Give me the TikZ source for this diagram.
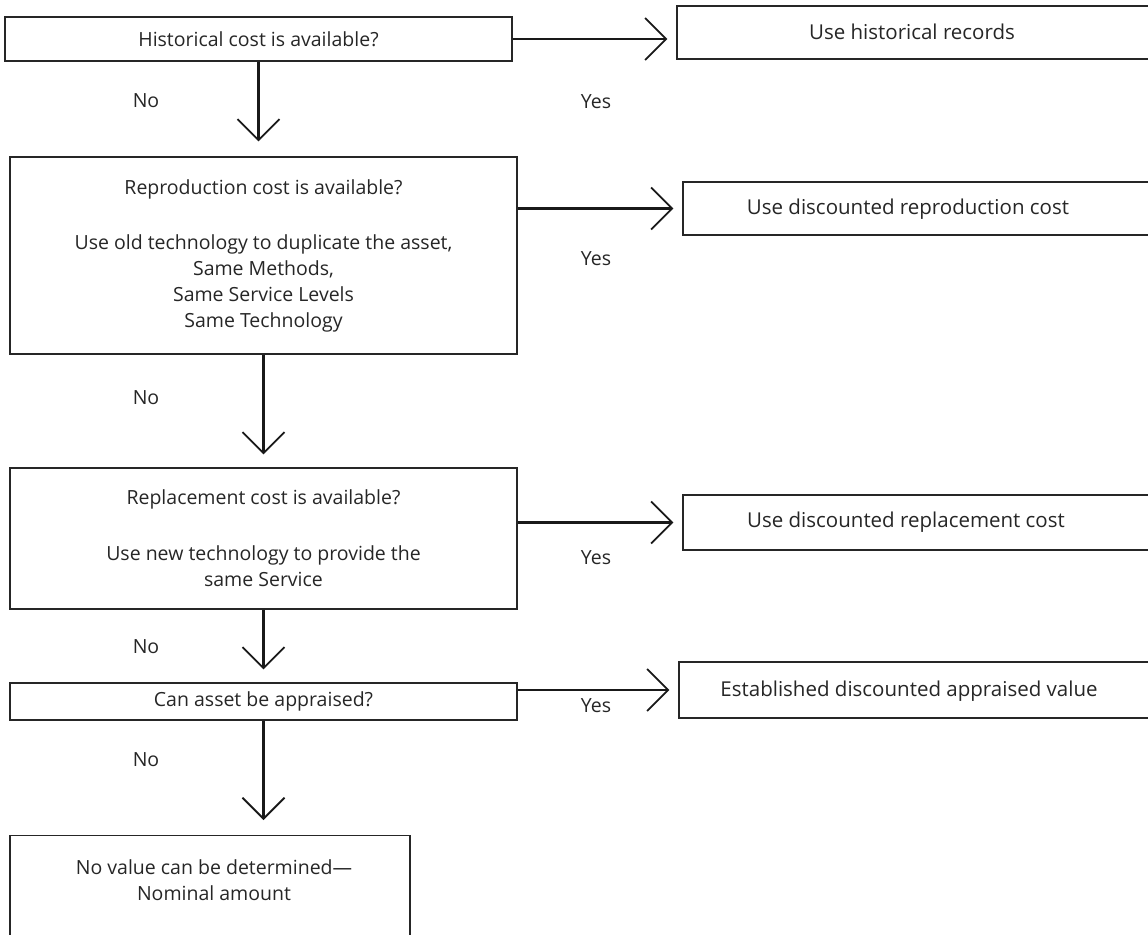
\documentclass[tikz,border=0pt]{standalone}
\usepackage{fontspec}
\setmainfont{Open Sans}
\usetikzlibrary{arrows.meta}
\begin{document}
\begin{tikzpicture}[x=1pt,y=-1pt,
  box/.style={draw=black!85, line width=1.3pt, rectangle, inner sep=0pt},
  txt/.style={font=\fontsize{19.5}{26}\selectfont, text=black!85, align=center, inner sep=0pt},
  rtxt/.style={font=\fontsize{20.5}{26}\selectfont, text=black!85, align=center, inner sep=0pt},
  arr/.style={draw=black!90, line width=2.2pt, -{Straight Barb[length=21pt,width=42pt,line width=1.8pt]}},
  lab/.style={font=\fontsize{19.5}{22}\selectfont, text=black!85, inner sep=0pt}]
\useasboundingbox (0,0) rectangle (1148,934);
\clip (0,0) rectangle (1148,934);
% left column
\node[box, txt, minimum width=507pt, minimum height=44pt] (A) at (258.5,39) {Historical cost is available?};
\node[box, txt, minimum width=507pt, minimum height=197pt] (B) at (263.5,255.5)
  {Reproduction cost is available?\\[29pt]Use old technology to duplicate the asset,\\Same Methods,\\Same Service Levels\\Same Technology};
\node[box, txt, minimum width=507pt, minimum height=141pt] (C) at (263.5,538.5)
  {Replacement cost is available?\\[30pt]Use new technology to provide the\\same Service};
\node[box, txt, minimum width=507pt, minimum height=37pt] (D) at (263.5,701.5) {Can asset be appraised?};
\node[box, minimum width=400pt, minimum height=130pt, anchor=north] (E) at (210,835) {};
\node[txt] (Et) at (214,880) {No value can be determined---\\Nominal amount};
% right column
\node[box, minimum width=483pt, minimum height=53pt] (R1) at (918.5,32.5) {};
\node[rtxt] (R1t) at (912,32) {Use historical records};
\node[box, minimum width=477pt, minimum height=53pt] (R2) at (921.5,208.5) {};
\node[rtxt] (R2t) at (908,209) {Use discounted reproduction cost};
\node[box, minimum width=477pt, minimum height=55pt] (R3) at (921.5,522.5) {};
\node[rtxt] (R3t) at (906,522) {Use discounted replacement cost};
\node[box, minimum width=481pt, minimum height=56pt] (R4) at (919.5,690) {};
\node[rtxt] (R4t) at (909,691) {Established discounted appraised value};
% connectors
\draw[arr, shorten >=9pt] (A.east) -- (A.east -| R1.west);
\draw[arr, shorten >=9pt] (B.east |- R2.west) -- (R2.west);
\draw[arr, shorten >=9pt] (C.east |- R3.west) -- (R3.west);
\draw[arr, shorten >=9pt] (D.east |- R4.west) -- (R4.west);
\draw[arr, shorten >=15pt] (A.south) -- (A.south |- B.north);
\draw[arr, shorten >=13pt] (B.south) -- (C.north);
\draw[arr, shorten >=13pt] (C.south) -- (D.north);
\draw[arr, shorten >=15pt] (D.south) -- (D.south |- E.north);
% labels
\node[lab] (y1) at (596,102) {Yes};
\node[lab] (y2) at (596,259) {Yes};
\node[lab] (y3) at (596,558) {Yes};
\node[lab] (y4) at (596,706) {Yes};
\node[lab] (n1) at (146,101) {No};
\node[lab] (n2) at (146,398) {No};
\node[lab] (n3) at (146,647) {No};
\node[lab] (n4) at (146,760) {No};
\end{tikzpicture}
\end{document}
